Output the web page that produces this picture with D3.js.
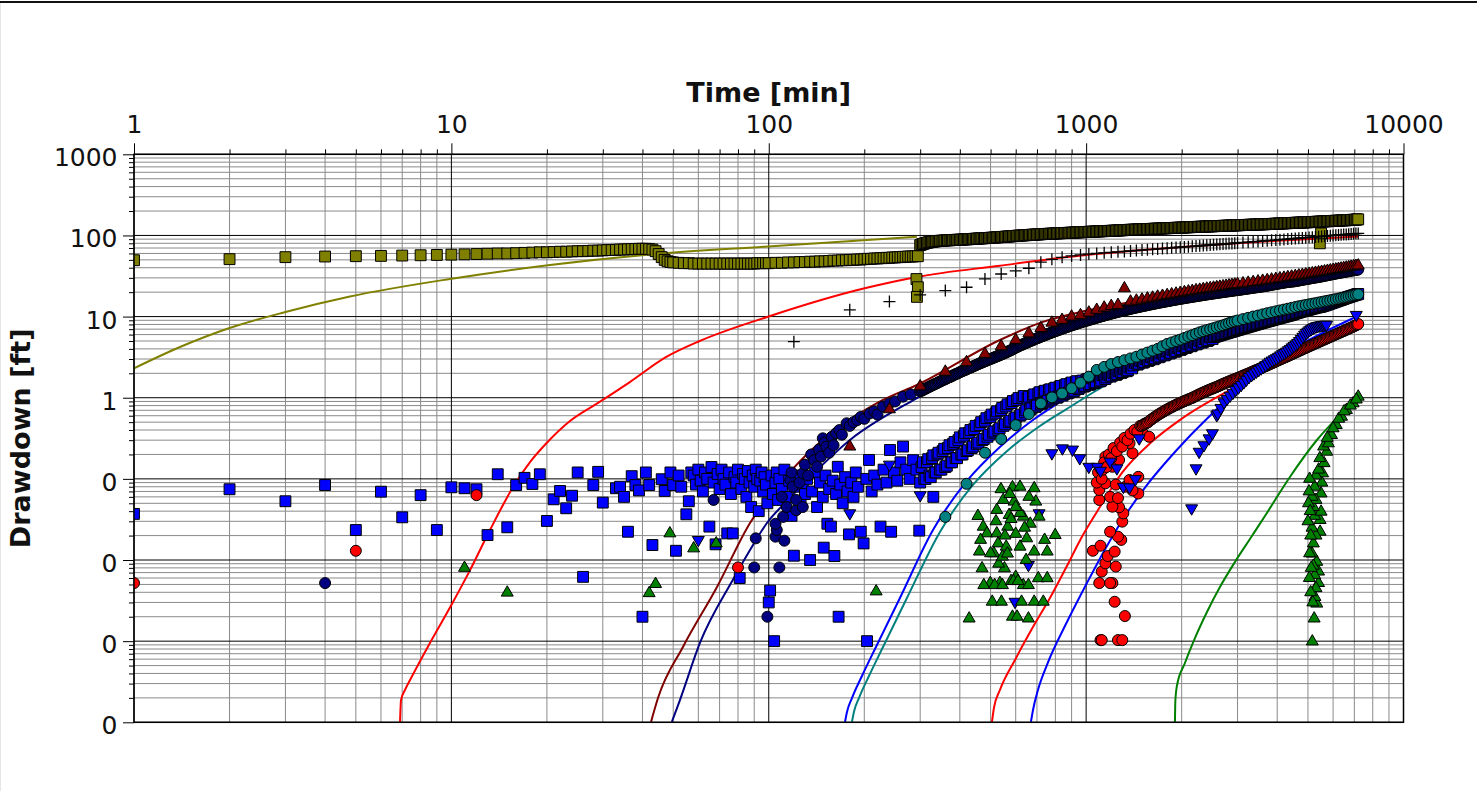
<!DOCTYPE html>
<html>
<head>
<meta charset="utf-8">
<script src="https://cdn.jsdelivr.net/npm/d3@7"></script>
<style>
  html, body { margin: 0; padding: 0; background: #fff; }
  svg { display: block; }
</style>
</head>
<body>
<svg id="chart" width="1477" height="791"></svg>
<script>
// ---------- axes ----------
const xTickValues = [1, 10, 100, 1000, 10000];
const xTickLabels = ["1", "10", "100", "1000", "10000"];
const yTickValues = [1000, 100, 10, 1, 0.1, 0.01, 0.001, 0.0001];
const yTickLabels = ["1000", "100", "10", "1", "0", "0", "0", "0"];
const xTitle = "Time [min]";
const yTitle = "Drawdown [ft]";

// ---------- hourly readings (minutes) ----------
const hourlyTimes = [60,120,180,240,300,360,420,480,540,600,660,720,780,840,900,960,1020,1080,1140,1200,
  1260,1320,1380,1440,1500,1560,1620,1680,1740,1800,1860,1920,1980,2040,2100,2160,2220,2280,2340,2400,
  2460,2520,2580,2640,2700,2760,2820,2880,2940,3000,3120,3240,3360,3480,3600,3720,3840,3960,4080,4200,
  4320,4440,4560,4680,4800,4920,5040,5160,5280,5400,5520,5640,5760,5880,6000,6120,6240,6360,6480,6600,
  6720,6840,6960,7080,7200];

const crossValues = [null,4.9,12.1,15.3,18.5,20.9,23,29.1,33.5,36.5,39.4,46.8,50.8,53.8,55.9,57.5,59,60,61,62,
  62.8,63.6,64.4,65.2,66,66.8,67.5,68.2,68.9,69.6,70.3,71,71.6,72.2,72.8,73.4,74,74.6,75.2,75.8,
  76.3,76.8,77.3,77.8,78.3,78.8,79.3,79.8,80.3,80.8,81.8,82.7,83.6,84.5,85.4,86.2,87,87.8,88.6,89.4,
  90.2,91,91.7,92.4,93.1,93.8,94.5,95.2,95.9,96.6,97.3,98,98.7,99.4,100,100.6,101.2,101.8,102.4,103,
  103.6,104.2,104.8,105.4,106];

const maroonTriangleValues = [null,null,0.25,0.72,1.38,2.09,2.74,3.46,4.3,5.15,6.2,7.2,8.4,9.1,10,10.4,11.2,12.1,12.9,13.5,
  13.9,22.3,15.3,15.7,16.2,16.7,17.1,17.6,18,18.4,18.8,19.2,19.6,20,20.4,20.7,21.1,21.4,21.8,22.1,
  22.4,22.7,23,23.3,23.6,23.9,24.2,24.5,24.8,25.1,25.6,26.1,26.6,27.1,27.6,28.1,28.6,29.1,29.6,30.1,
  30.6,31.1,31.6,32.1,32.6,33.1,33.6,34.1,34.6,35.1,35.6,36.1,36.6,37.1,37.6,38.1,38.6,39.1,39.6,40.1,
  40.6,41.1,41.6,42.1,42.6];

const tealCircleValues = [null,null,null,null,null,0.034,0.087,0.21,0.31,0.46,0.63,0.85,1.01,1.13,1.31,1.53,1.82,2.2,2.4,2.6,
  2.75,2.9,3.05,3.2,3.4,3.6,3.8,4.0,4.3,4.6,4.8,5.0,5.2,5.45,5.7,5.9,6.15,6.4,6.6,6.8,
  7.0,7.2,7.4,7.6,7.8,8.05,8.3,8.55,8.75,8.95,9.3,9.65,10.0,10.3,10.65,11.0,11.3,11.6,11.9,12.2,
  12.5,12.8,13.1,13.4,13.65,13.9,14.15,14.4,14.65,14.9,15.15,15.4,15.65,15.9,16.15,16.4,16.65,16.9,17.15,17.4,
  17.7,18.0,18.3,18.55,18.8];

// ---------- logger readings (minutes) from 300 min on, two interleaved passes ----------
const loggerTimes = [
  300,306,312,318,324,330,336,343,350,357,
  364,371,378,385,392,400,408,416,424,432,
  440,449,458,467,476,485,494,504,514,524,
  534,544,555,566,577,588,600,612,624,636,
  648,660,673,686,700,714,728,742,756,771,
  786,801,817,833,850,867,884,901,919,937,
  955,974,993,1012,1032,1052,1073,1094,1116,1138,
  1160,1183,1206,1230,1254,1279,1304,1330,1356,1383,
  1410,1438,1466,1495,1524,1554,1585,1616,1648,1680,
  1713,1747,1781,1816,1852,1888,1925,1963,2002,2041,
  2081,2122,2164,2207,2250,2294,2339,2385,2432,2480,
  2529,2579,2630,2682,2735,2789,2844,2900,2957,3015,
  3074,3134,3196,3259,3323,3388,3455,3523,3592,3663,
  3735,3808,3883,3960,4038,4117,4198,4281,4365,4451,
  4538,4627,4718,4811,4906,5002,5100,5200,5303,5407,
  5513,5622,5732,5845,5960,6077,6197,6319,6443,6570,
  6699,6831,6965,7102,7200];

const loggerTimesB = [
  303,309,315,321,327,333,340,346,353,360,
  367,374,381,388,396,404,412,420,428,436,
  444,453,462,471,480,489,499,509,519,529,
  539,549,560,571,582,594,606,618,630,642,
  654,666,680,693,707,721,735,749,763,778,
  793,809,825,841,858,875,892,910,928,946,
  964,983,1002,1022,1042,1062,1083,1105,1127,1149,
  1171,1194,1218,1242,1266,1291,1317,1343,1369,1396,
  1424,1452,1480,1509,1539,1569,1600,1632,1664,1696,
  1730,1764,1798,1834,1870,1906,1944,1982,2021,2061,
  2101,2143,2185,2228,2272,2316,2362,2408,2456,2504,
  2554,2604,2656,2708,2762,2816,2872,2928,2986,3044,
  3104,3165,3227,3291,3355,3421,3489,3557,3627,3699,
  3771,3845,3921,3999,4077,4157,4239,4323,4408,4494,
  4582,4672,4764,4858,4954,5051,5150,5251,5355,5460,
  5567,5677,5788,5902,6018,6137,6258,6381,6506,6634,
  6765,6898,7033,7150];

const oliveLogger = [
  76,78.5,80.5,82,83.2,84,84.7,85.5,86,86.5,
  87,87.3,87.6,88,88.3,88.6,89,89.4,89.8,90.2,
  90.6,91.1,91.6,92,92.4,92.8,93.2,93.7,94.2,94.7,
  95.2,95.7,96.3,96.9,97.5,98,98.7,99.3,99.8,100.3,
  100.8,101.3,101.8,102.3,102.8,103.3,103.8,104.2,104.6,105,
  105.4,105.8,106.2,106.6,107,107.4,107.8,108.2,108.6,109,
  109.4,109.8,110.2,110.6,111,111.4,111.8,112.2,112.6,113,
  113.4,113.8,114.2,114.6,115,115.5,116,116.5,117,117.4,
  117.8,118.2,118.6,119,119.4,119.8,120.2,120.6,121,121.4,
  121.8,122.2,122.6,123,123.4,123.8,124.2,124.6,125,125.5,
  126,126.4,126.8,127.2,127.6,128,128.4,128.8,129.2,129.6,
  130,130.4,130.8,131.2,131.6,132,132.4,132.8,133.2,133.6,
  134,134.4,134.8,135.2,135.6,136,136.4,136.8,137.2,137.6,
  138,138.5,139,139.5,140,140.5,141,141.5,142,142.5,
  143,143.5,144,144.5,145,145.5,146,146.6,147.2,147.8,
  148.4,149,149.6,150.2,150.8,151.4,152,152.6,153.2,153.8,
  154.5,155.2,156,157,158];

const oliveLoggerB = [
  77.5,79.5,81.3,82.6,83.6,84.4,85.1,85.8,86.3,86.8,
  87.2,87.5,87.8,88.2,88.5,88.8,89.2,89.6,90,90.4,
  90.9,91.4,91.8,92.2,92.6,93,93.5,94,94.5,95,
  95.5,96,96.6,97.2,97.8,98.4,99,99.6,100.1,100.6,
  101.1,101.6,102.1,102.6,103.1,103.6,104,104.4,104.8,105.2,
  105.6,106,106.4,106.8,107.2,107.6,108,108.4,108.8,109.2,
  109.6,110,110.4,110.8,111.2,111.6,112,112.4,112.8,113.2,
  113.6,114,114.4,114.8,115.3,115.8,116.3,116.8,117.2,117.6,
  118,118.4,118.8,119.2,119.6,120,120.4,120.8,121.2,121.6,
  122,122.4,122.8,123.2,123.6,124,124.4,124.8,125.3,125.8,
  126.2,126.6,127,127.4,127.8,128.2,128.6,129,129.4,129.8,
  130.2,130.6,131,131.4,131.8,132.2,132.6,133,133.4,133.8,
  134.2,134.6,135,135.4,135.8,136.2,136.6,137,137.4,137.8,
  138.3,138.8,139.3,139.8,140.3,140.8,141.3,141.8,142.3,142.8,
  143.3,143.8,144.3,144.8,145.3,145.8,146.3,146.9,147.5,148.1,
  148.7,149.3,149.9,150.5,151.1,151.7,152.3,152.9,153.5,154.2,
  154.9,155.6,156.5,157.5];

const navyLogger = [
  1.2,1.24,1.29,1.34,1.39,1.44,1.49,1.55,1.61,1.67,
  1.73,1.79,1.85,1.92,1.98,2.06,2.13,2.2,2.28,2.35,
  2.43,2.51,2.6,2.69,2.77,2.86,2.95,3.04,3.14,3.24,
  3.34,3.44,3.56,3.69,3.82,3.96,4.15,4.3,4.45,4.6,
  4.75,4.9,5.06,5.22,5.4,5.57,5.74,5.91,6.08,6.26,
  6.44,6.62,6.81,7.0,7.2,7.4,7.6,7.8,8.0,8.2,
  8.4,8.6,8.8,9.0,9.2,9.4,9.62,9.84,10.06,10.28,
  10.5,10.72,10.94,11.16,11.38,11.6,11.82,12.04,12.26,12.48,
  12.7,12.92,13.14,13.36,13.58,13.8,14.02,14.24,14.46,14.68,
  14.9,15.12,15.34,15.56,15.78,16.0,16.22,16.44,16.66,16.88,
  17.1,17.32,17.54,17.76,17.98,18.2,18.42,18.64,18.86,19.08,
  19.3,19.52,19.74,19.96,20.18,20.4,20.62,20.84,21.06,21.28,
  21.5,21.75,22.0,22.25,22.5,22.75,23.0,23.25,23.5,23.75,
  24.1,24.45,24.8,25.15,25.5,25.85,26.2,26.5,26.8,27.0,
  27.2,27.6,28.0,28.4,28.8,29.2,29.6,30.0,30.4,30.8,
  31.2,31.7,32.2,32.7,33.2,33.7,34.2,34.7,35.2,35.7,
  36.2,36.7,37.2,37.7,38];

const navyLoggerB = [
  1.22,1.27,1.32,1.37,1.42,1.47,1.52,1.58,1.64,1.7,
  1.76,1.82,1.89,1.95,2.02,2.1,2.17,2.24,2.32,2.39,
  2.47,2.56,2.65,2.73,2.82,2.91,3.0,3.09,3.19,3.29,
  3.39,3.5,3.63,3.76,3.89,4.05,4.22,4.38,4.52,4.68,
  4.82,4.98,5.14,5.31,5.48,5.66,5.82,6.0,6.17,6.35,
  6.53,6.72,6.9,7.1,7.3,7.5,7.7,7.9,8.1,8.3,
  8.5,8.7,8.9,9.1,9.3,9.51,9.73,9.95,10.17,10.39,
  10.61,10.83,11.05,11.27,11.49,11.71,11.93,12.15,12.37,12.59,
  12.81,13.03,13.25,13.47,13.69,13.91,14.13,14.35,14.57,14.79,
  15.01,15.23,15.45,15.67,15.89,16.11,16.33,16.55,16.77,16.99,
  17.21,17.43,17.65,17.87,18.09,18.31,18.53,18.75,18.97,19.19,
  19.41,19.63,19.85,20.07,20.29,20.51,20.73,20.95,21.17,21.39,
  21.62,21.87,22.12,22.37,22.62,22.87,23.12,23.37,23.62,23.92,
  24.27,24.62,24.97,25.32,25.67,26.02,26.35,26.65,26.9,27.1,
  27.4,27.8,28.2,28.6,29.0,29.4,29.8,30.2,30.6,31.0,
  31.45,31.95,32.45,32.95,33.45,33.95,34.45,34.95,35.45,35.95,
  36.45,36.95,37.45,37.85];

const blueSquareLogger = [
  0.09,0.16,0.1,0.175,0.105,0.195,0.12,0.21,0.13,0.235,
  0.145,0.26,0.16,0.285,0.18,0.325,0.2,0.365,0.225,0.4,
  0.25,0.45,0.28,0.5,0.31,0.56,0.35,0.62,0.385,0.68,
  0.42,0.75,0.47,0.83,0.52,0.91,0.57,0.99,0.62,1.05,
  0.7,1.03,0.74,1.1,0.8,1.17,0.86,1.22,0.92,1.27,
  0.98,1.33,1.03,1.4,1.1,1.47,1.16,1.54,1.22,1.6,
  1.33,1.63,1.4,1.7,1.47,1.78,1.55,1.86,1.63,1.95,
  1.78,1.97,1.87,2.07,1.96,2.18,2.07,2.3,2.18,2.42,
  2.5,2.78,2.63,2.92,2.76,3.07,2.91,3.23,3.06,3.4,
  3.23,3.59,3.4,3.78,3.58,3.98,3.77,4.2,3.98,4.43,
  4.2,4.66,4.42,4.9,4.65,5.16,4.88,5.4,5.12,5.68,
  5.6,5.74,5.88,6.02,6.16,6.3,6.45,6.6,6.75,6.9,
  7.06,7.22,7.38,7.55,7.72,7.89,8.06,8.24,8.42,8.6,
  8.78,8.97,9.16,9.35,9.54,9.74,9.94,10.14,10.35,10.56,
  10.9,11.15,11.4,11.65,11.9,12.15,12.4,12.65,12.9,13.1,
  13.3,13.65,14.0,14.4,14.8,15.2,15.6,16.0,16.45,16.9,
  17.35,17.8,18.25,18.7,19.0];

const blueSquareLoggerB = [
  0.14,0.1,0.16,0.11,0.18,0.12,0.2,0.13,0.22,0.14,
  0.24,0.16,0.27,0.18,0.3,0.2,0.34,0.22,0.37,0.24,
  0.41,0.27,0.46,0.3,0.52,0.33,0.58,0.37,0.64,0.4,
  0.7,0.45,0.78,0.5,0.86,0.55,0.94,0.6,1.0,0.66,
  0.98,0.72,1.06,0.77,1.13,0.83,1.19,0.89,1.25,0.95,
  1.3,1.0,1.37,1.06,1.43,1.13,1.5,1.19,1.57,1.28,
  1.6,1.37,1.67,1.44,1.74,1.51,1.82,1.59,1.9,1.7,
  1.92,1.82,2.02,1.91,2.12,2.02,2.24,2.12,2.36,2.3,
  2.7,2.56,2.85,2.7,3.0,2.84,3.15,2.98,3.32,3.15,
  3.5,3.32,3.7,3.5,3.9,3.68,4.1,3.88,4.32,4.1,
  4.55,4.31,4.78,4.54,5.03,4.77,5.28,5.0,5.54,5.3,
  5.67,5.81,5.95,6.09,6.23,6.37,6.52,6.67,6.82,6.98,
  7.14,7.3,7.46,7.63,7.8,7.97,8.15,8.33,8.51,8.69,
  8.87,9.06,9.25,9.44,9.64,9.84,10.04,10.25,10.46,10.7,
  11.02,11.27,11.52,11.77,12.02,12.27,12.52,12.77,13.0,13.2,
  13.48,13.82,14.2,14.6,15.0,15.4,15.8,16.22,16.67,17.12,
  17.57,18.02,18.47,18.85];

const redCircleLogger = [
  null,null,null,null,null,null,null,null,null,null,
  null,null,null,null,null,null,null,null,null,null,
  null,null,null,null,null,null,null,null,null,null,
  null,null,null,null,null,null,null,null,null,null,
  null,null,null,null,null,null,null,null,null,null,
  null,null,null,null,null,null,null,null,null,null,
  null,null,null,null,null,null,null,null,null,null,
  null,null,null,null,null,null,null,null,null,null,
  null,null,null,0.45,0.47,0.49,0.52,0.55,0.58,0.61,
  0.64,0.67,0.7,0.73,0.76,0.79,0.82,0.85,0.88,0.91,
  0.94,0.97,1.0,1.04,1.08,1.12,1.16,1.2,1.24,1.28,
  1.32,1.36,1.41,1.46,1.51,1.56,1.61,1.66,1.71,1.76,
  1.82,1.88,1.94,2.0,2.07,2.14,2.21,2.28,2.36,2.44,
  2.52,2.61,2.7,2.8,2.9,3.0,3.1,3.21,3.32,3.44,
  3.56,3.69,3.82,3.96,4.1,4.24,4.39,4.54,4.7,4.86,
  5.03,5.2,5.38,5.57,5.76,5.96,6.16,6.37,6.59,6.82,
  7.06,7.31,7.57,7.85,8.1];

const redCircleLoggerB = [
  null,null,null,null,null,null,null,null,null,null,
  null,null,null,null,null,null,null,null,null,null,
  null,null,null,null,null,null,null,null,null,null,
  null,null,null,null,null,null,null,null,null,null,
  null,null,null,null,null,null,null,null,null,null,
  null,null,null,null,null,null,null,null,null,null,
  null,null,null,null,null,null,null,null,null,null,
  null,null,null,null,null,null,null,null,null,null,
  null,null,null,0.46,0.48,0.5,0.535,0.565,0.595,0.625,
  0.655,0.685,0.715,0.745,0.775,0.805,0.835,0.865,0.895,0.925,
  0.955,0.985,1.02,1.06,1.1,1.14,1.18,1.22,1.26,1.3,
  1.34,1.385,1.435,1.485,1.535,1.585,1.635,1.685,1.735,1.79,
  1.85,1.91,1.97,2.035,2.105,2.175,2.245,2.32,2.4,2.48,
  2.565,2.655,2.75,2.85,2.95,3.05,3.155,3.265,3.38,3.5,
  3.625,3.755,3.89,4.03,4.17,4.315,4.465,4.62,4.78,4.945,
  5.115,5.29,5.475,5.665,5.86,6.06,6.265,6.48,6.705,6.94,
  7.185,7.44,7.71,7.97];

// ---------- individual readings ----------
const oliveSquares = [[1,49.5],[2,51],[3,54],[4,55],[5,55.5],[6,56],[7,56.5],[8,57],[9,57.5],[10,58],
  [11,58.5],[12,59],[13,59.5],[14,60],[15,60],[16,60.5],[17,61],[18,61.5],[19,62],[20,62],
  [21,62.5],[22,63],[23,63],[24,63.5],[25,64],[26,64],[27,64.5],[28,65],[29,65],[30,65.5],
  [31,66],[32,66],[33,66.5],[34,67],[35,67],[36,67.5],[37,68],[38,68],[39,68.5],[40,68.5],
  [41,68.5],[42,68],[43,67],[44,64],[45,59],[46,54],[47,50],[48,48],[49,47],[50,46.5],
  [52,46],[54,45.5],[56,45.5],[58,45],[60,45],[62,45],[64,45],[66,45],[68,45],[70,45],
  [72,45],[74,45],[76,45],[78,45],[80,45],[82,45],[84,45],[86,45],[88,45],[90,45],
  [92,45.5],[94,45.5],[96,45.5],[98,45.5],[100,45.5],[105,46],[110,46],[115,46.5],[120,46.5],[125,47],
  [130,47],[135,47.5],[140,47.5],[145,48],[150,48],[155,48.5],[160,49],[165,49],[170,49.5],[175,49.5],
  [180,50],[185,50],[190,50.5],[195,50.5],[200,51],[205,51.5],[210,51.5],[215,52],[220,52],[225,52.5],
  [230,52.5],[235,53],[240,53],[245,53.5],[250,53.5],[255,54],[260,54],[265,54.5],[270,54.5],[275,55],
  [280,55],[285,55],[290,55.5],[295,55.5],
  [292,29],[295,23],[293,17.5],[5450,80],[5500,106]];

const blueSquares = [[1,0.037],[2,0.0745],[3,0.053],[4,0.084],[5,0.0234],[6,0.0695],[7,0.0336],[8,0.063],[9,0.0234],[10,0.0787],
  [11,0.0766],[12,0.0745],[13,0.0203],[14,0.114],[15,0.0253],[16,0.084],[17,0.103],[18,0.0865],[19,0.114],[20,0.0303],
  [21,0.056],[22,0.071],[23,0.0434],[24,0.062],[25,0.12],[26,0.0062],[28,0.084],[29,0.122],[30,0.051],[33,0.0766],
  [34,0.08],[35,0.06],[36,0.0223],[37,0.108],[38,0.084],[39,0.072],[40,0.002],[41,0.12],[42,0.084],[43,0.0153],
  [46,0.099],[47,0.071],[49,0.12],[50,0.084],[51,0.013],[52,0.11],[53,0.08],[55,0.0366],[56,0.053],[57,0.12],
  [58,0.11],[59,0.085],[60,0.13],[61,0.095],[62,0.07],[63,0.12],[64,0.1],[65,0.0258],[66,0.14],[67,0.09],
  [68,0.0156],[69,0.115],[70,0.075],[71,0.13],[72,0.1],[73,0.085],[74,0.0213],[75,0.12],[76,0.065],[77,0.0213],
  [78,0.105],[79,0.09],[80,0.13],[81,0.006],[82,0.075],[83,0.115],[84,0.1],[85,0.06],[86,0.125],[87,0.09],
  [88,0.045],[89,0.11],[90,0.08],[91,0.13],[92,0.1],[93,0.04],[94,0.095],[95,0.12],[96,0.07],[97,0.105],
  [98,0.085],[99,0.05],[100,0.003],[101,0.0042],[102,0.11],[103,0.065],[104,0.001],[105,0.09],[106,0.12],[107,0.055],
  [108,0.1],[110,0.075],[112,0.13],[114,0.06],[116,0.095],[118,0.035],[120,0.0113],[122,0.08],[124,0.11],[126,0.05],
  [128,0.085],[130,0.065],[132,0.1],[135,0.01],[137,0.07],[140,0.12],[142,0.045],[145,0.09],[148,0.06],[149,0.0142],
  [151,0.11],[153,0.028],[155,0.075],[157,0.0258],[159,0.095],[161,0.0112],[163,0.065],[165,0.141],[166,0.002],[168,0.085],
  [171,0.05],[174,0.105],[177,0.07],[179,0.0207],[182,0.09],[185,0.06],[188,0.12],[191,0.08],[195,0.0223],[199,0.016],
  [203,0.1],[204,0.001],[207,0.171],[211,0.07],[215,0.11],[220,0.085],[225,0.0258],[230,0.13],[235,0.09],[241,0.227],
  [243,0.0223],[248,0.12],[254,0.095],[260,0.16],[265,0.25],[271,0.13],[278,0.1],[285,0.17],[292,0.13],[298,0.023],[330,0.06]];

const navyCircles = [[4,0.0052],[67,0.055],[91,0.0185],[90,0.0081],[99,0.002],[105,0.0194],[108,0.0081],[112,0.0173],[106,0.0234],[105,0.028],
  [111,0.034],[110,0.06],[114,0.045],[117,0.097],[118,0.12],[119,0.08],[122,0.041],[122,0.055],[125,0.09],[128,0.045],
  [128,0.117],[130,0.15],[133,0.11],[136,0.2],[139,0.17],[142,0.141],[144,0.23],[146,0.188],[148,0.316],[150,0.28],
  [152,0.249],[155,0.21],[158,0.33],[160,0.26],[163,0.365],[167,0.4],[170,0.35],[176,0.484],[180,0.45],[185,0.5],
  [190,0.53],[195,0.58],[200,0.55],[208,0.64],[215,0.68],[220,0.62],[229,0.78],[240,0.85],[250,0.9],[265,1.03],[280,1.1]];

const redCircles = [[1,0.0052],[5,0.013],[12,0.063],[80,0.0081],
  [1110,0.00103],[1120,0.00103],[1260,0.00103],[1300,0.00103],[1325,0.00204],[1230,0.00306],[1210,0.0052],[1190,0.0052],[1100,0.0052],[1120,0.0072],
  [1240,0.0083],[1150,0.0091],[1170,0.0112],[1230,0.0127],[1050,0.013],[1110,0.015],[1290,0.0177],[1260,0.0194],[1190,0.0223],[1300,0.0297],
  [1310,0.0376],[1270,0.0447],[1210,0.0454],[1100,0.055],[1190,0.06],[1260,0.058],[1100,0.073],[1150,0.088],[1240,0.085],[1330,0.08],
  [1460,0.066],[1400,0.072],[1370,0.097],[1460,0.106],[1210,0.141],[1270,0.171],[1150,0.188],[1400,0.207],[1370,0.274],[1510,0.365],
  [1080,0.09],[1090,0.12],[1120,0.1],[1130,0.13],[1140,0.16],[1160,0.14],[1180,0.2],[1200,0.18],[1220,0.24],[1250,0.22],
  [1280,0.28],[1300,0.25],[1320,0.32],[1350,0.3],[1380,0.36],[1420,0.4],[1450,0.38],[1480,0.45],[1530,0.48],[1580,0.33]];

const blueTriangles = [[60,0.0177],[180,0.0377],[240,0.15],[300,0.063],[597,0.00306],[658,0.0087],[711,0.0377],[780,0.207],[842,0.238],[906,0.23],
  [955,0.18],[1020,0.141],[1085,0.141],[1110,0.126],[1190,0.163],[1250,0.135],[1310,0.08],[1370,0.0787],[1430,0.0995],[1470,0.316],
  [2150,0.0434],[2220,0.135],[2270,0.216],[2350,0.26],[2440,0.316],[2500,0.365],[2580,0.61],[2600,0.64],[2660,0.75],[2720,0.88],
  [2780,0.97],[2840,1.06],[2900,1.15],[2960,1.25],[3020,1.34],[3080,1.44],[3140,1.55],[3200,1.67],[3260,1.8],[3320,1.9],
  [3380,2.0],[3440,2.1],[3500,2.2],[3560,2.3],[3620,2.4],[3680,2.52],[3740,2.65],[3800,2.78],[3860,2.88],[3920,2.98],
  [3980,3.08],[4040,3.2],[4100,3.33],[4160,3.45],[4220,3.57],[4280,3.7],[4340,3.85],[4400,4.0],[4460,4.18],[4520,4.35],
  [4580,4.55],[4640,4.75],[4700,5.0],[4760,5.3],[4820,5.65],[4880,6.0],[4940,6.3],[5000,6.55],[5060,6.8],[5120,7.0],
  [5180,7.2],[5240,7.4],[5300,7.55],[5360,7.65],[5420,7.72],[5480,7.8],[5540,7.85],[5600,7.9],[5660,7.93],[5720,7.96],[7100,10.5]];

const greenTriangles = [[11,0.008],[15,0.00396],[42,0.0039],[44,0.00506],[48.8,0.0213],[58,0.0139],[68.3,0.016],[218,0.0041],
  [428,0.0019],[456,0.0349],[474,0.0257],[461,0.0127],[470,0.0079],[499,0.0052],[506,0.00306],[487,0.0213],[523,0.0414],[539,0.0745],
  [548,0.055],[523,0.0213],[528,0.016],[512,0.0121],[535,0.0052],[541,0.00306],[553,0.0079],[560,0.0146],[566,0.0257],[572,0.0359],
  [586,0.0787],[593,0.0524],[586,0.002],[606,0.002],[600,0.0062],[619,0.08],[619,0.0146],[626,0.00306],[634,0.0049],[634,0.0342],
  [650,0.0185],[658,0.0019],[647,0.01],[658,0.0049],[667,0.028],[686,0.0766],[686,0.0127],[686,0.00306],[694,0.0524],[707,0.00596],
  [711,0.0342],[733,0.00306],[740,0.0177],[754,0.00596],[754,0.0127],[799,0.0203],[465,0.0177],[476,0.0049],[515,0.0049],[545,0.0049],
  [580,0.0055],[590,0.0055],[610,0.0055],[500,0.0121],[530,0.009],[545,0.011],[565,0.012],[600,0.021],[520,0.03],[555,0.02],
  [580,0.032],[620,0.038],[640,0.025],[600,0.045],[575,0.065],[660,0.06],
  [5160,0.00099],[5230,0.0019],[5330,0.0029],[5260,0.0035],[5400,0.0052],[5300,0.0045],[5400,0.0072],[5250,0.0065],[5330,0.0095],[5200,0.0085],
  [5200,0.016],[5150,0.012],[5060,0.0121],[5460,0.0223],[5300,0.02],[5150,0.025],[5460,0.0311],[5250,0.035],[5500,0.0394],[5200,0.045],
  [5500,0.066],[5300,0.055],[5150,0.06],[5530,0.0898],[5250,0.08],[5560,0.117],[5300,0.11],[5400,0.13],[5620,0.156],[5450,0.18],
  [5730,0.216],[5600,0.25],[5800,0.274],[5930,0.347],[5750,0.32],[6140,0.461],[6000,0.42],[6380,0.583],[6250,0.55],[6610,0.706],
  [6500,0.68],[6940,0.853],[6800,0.8],[7200,1.03],[7100,0.95],[5000,0.03],[5020,0.05],[5040,0.07],[5060,0.1],[5080,0.04],
  [5100,0.02],[5050,0.006],[5100,0.004],[5120,0.008],[5180,0.003]];

// ---------- fitted drawdown curves ----------
const oliveCurve = [[1,2.306],[1.396,4.22],[2.0,7.24],[3.0,11.39],[4.79,17.69],[9.9,29.07],[20.45,43.24],[42.24,58.26],[99.4,73.1],[293,96.5]];
const redCurveNear = [[6.89,1.01e-4],[6.94,1.88e-4],[7.14,2.5e-4],[7.41,3.32e-4],[8.56,9.5e-4],[10,2.79e-3],[11.45,7.5e-3],[13.23,0.0234],[15.64,0.0794],[17.69,0.161],[19.96,0.277],[23.64,0.517],[29.4,0.894],[36.5,1.56],[47.7,3.2],[60.6,5.0],[99.4,9.97],[202,22.5],[293,30.8],[535,42.4],[999,57.4],[2000,72],[4000,86],[7200,97]];
const maroonCurve = [[42.56,1.01e-4],[44.77,1.99e-4],[53.65,8.47e-4],[68.7,4.65e-3],[87.3,0.0286],[110.8,0.0969],[141.8,0.2616],[180.3,0.532],[229,0.938],[293,1.436],[535,5.15],[731,8.6],[1000,11.8],[1500,16],[2500,22],[4000,29],[7200,42]];
const navyCurve = [[49.5,1.01e-4],[52.5,1.88e-4],[60.7,9.5e-4],[77.1,5.7e-3],[87.3,0.0133],[98.7,0.0286],[115,0.055],[180.3,0.302],[293,0.99],[535,3.37],[999,8.34],[2000,17],[4000,27],[7200,37]];
const blueCurveNear = [[173.9,1.01e-4],[176.4,1.34e-4],[182.9,1.99e-4],[196.6,3.72e-4],[219.2,8.97e-4],[259,3.4e-3],[329.2,0.0234],[421.1,0.0942],[535,0.247],[679.9,0.532],[845.2,0.938],[1005.8,1.477],[2000,4.8],[3000,8],[5000,13.5],[7200,18.5]];
const tealCurve = [[182.9,1.01e-4],[185.5,1.34e-4],[192.4,1.99e-4],[206.9,3.72e-4],[230.7,8.97e-4],[272.5,3.4e-3],[346.3,0.0222],[439.9,0.0841],[559,0.2145],[715.3,0.448],[889.2,0.769],[1058,1.177],[2000,4.5],[3000,7.8],[5000,13.3],[7200,18.6]];
const redCurveFar = [[505,1.01e-4],[512.3,1.5e-4],[535,2.5e-4],[596.8,5.86e-4],[679.9,1.49e-3],[769.1,3.4e-3],[870,8.44e-3],[977,0.0203],[1105,0.045],[1300,0.12],[1600,0.28],[2000,0.55],[3000,1.4],[5000,4],[7200,8]];
const blueCurveFar = [[670,1.01e-4],[680,1.41e-4],[705,2.5e-4],[752.3,5.08e-4],[870,1.72e-3],[1006,5.21e-3],[1163,0.0149],[1344,0.038],[1554,0.084],[1797,0.166],[2078,0.31],[2583,0.727],[3282,1.8],[4716,4.47],[7183,10.17]];
const greenCurve = [[1905,1.01e-4],[1911,1.88e-4],[1932,2.8e-4],[2048,5.38e-4],[2202,1.09e-3],[2403,2.29e-3],[2640,4.65e-3],[2943,9.45e-3],[3282,0.01816],[3712,0.038],[4386,0.1055],[5336,0.3014],[6302,0.613],[7183,1.021]];

// ---------- layout ----------
const W = 1477, H = 791;
const plot = { left: 134, right: 1403.5, top: 154.3, bottom: 722.3 };
const FONT = "'DejaVu Sans', Verdana, sans-serif";

const svg = d3.select("#chart");
const x = d3.scaleLog().domain([1, 10000]).range([plot.left, plot.right]);
const y = d3.scaleLog().domain([1e-4, 1000]).range([plot.bottom, plot.top]);

svg.append("rect").attr("width", W).attr("height", H).attr("fill", "#fff");
svg.append("line").attr("x1", 0).attr("x2", W).attr("y1", 2).attr("y2", 2)
  .attr("stroke", "#111").attr("stroke-width", 2.2);
svg.append("line").attr("x1", 0.5).attr("x2", 0.5).attr("y1", 3).attr("y2", H)
  .attr("stroke", "#e6e6e6");

const xMinor = x.ticks().filter(v => !xTickValues.includes(v));
const yMinor = y.ticks().filter(v => !yTickValues.some(m => Math.abs(m - v) / m < 1e-9));

// grid
const grid = svg.append("g");
grid.selectAll(null).data(xMinor).join("line")
  .attr("x1", d => x(d)).attr("x2", d => x(d)).attr("y1", plot.top).attr("y2", plot.bottom)
  .attr("stroke", "#8a8a8a").attr("stroke-width", 1);
grid.selectAll(null).data(yMinor).join("line")
  .attr("y1", d => y(d)).attr("y2", d => y(d)).attr("x1", plot.left).attr("x2", plot.right)
  .attr("stroke", "#8a8a8a").attr("stroke-width", 1);
grid.selectAll(null).data(xTickValues).join("line")
  .attr("x1", d => x(d)).attr("x2", d => x(d)).attr("y1", plot.top).attr("y2", plot.bottom)
  .attr("stroke", "#000").attr("stroke-width", 1);
grid.selectAll(null).data(yTickValues).join("line")
  .attr("y1", d => y(d)).attr("y2", d => y(d)).attr("x1", plot.left).attr("x2", plot.right)
  .attr("stroke", "#000").attr("stroke-width", 1);

// axes
function styleAxis(g) {
  g.select(".domain").remove();
  g.selectAll(".tick line").attr("stroke", "#000").attr("stroke-width", 1);
  g.selectAll(".tick text").attr("fill", "#111").style("font-family", FONT).style("font-size", "25px");
}
svg.append("g").attr("transform", `translate(0,${plot.top})`)
  .call(d3.axisTop(x).tickValues(xMinor).tickSize(5).tickFormat(""))
  .call(styleAxis);
svg.append("g").attr("transform", `translate(0,${plot.top})`)
  .call(d3.axisTop(x).tickValues(xTickValues).tickSize(11).tickPadding(10)
    .tickFormat((d, i) => xTickLabels[i]))
  .call(styleAxis);
svg.append("g").attr("transform", `translate(${plot.left},0)`)
  .call(d3.axisLeft(y).tickValues(yMinor).tickSize(5).tickFormat(""))
  .call(styleAxis);
svg.append("g").attr("transform", `translate(${plot.left},0)`)
  .call(d3.axisLeft(y).tickValues(yTickValues).tickSize(11).tickPadding(5.5)
    .tickFormat((d, i) => yTickLabels[i]))
  .call(styleAxis)
  .call(g => g.selectAll(".tick text").attr("dy", "0.46em"));

// titles
svg.append("text").attr("x", (plot.left + plot.right) / 2).attr("y", 102)
  .attr("text-anchor", "middle").style("font-family", FONT).style("font-size", "27px")
  .style("font-weight", "bold").attr("fill", "#111").text(xTitle);
svg.append("text").attr("transform", `translate(30,${(plot.top + plot.bottom) / 2}) rotate(-90)`)
  .attr("text-anchor", "middle").style("font-family", FONT).style("font-size", "27px")
  .style("font-weight", "bold").attr("fill", "#111").text(yTitle);

// plotting area
svg.append("clipPath").attr("id", "plotClip").append("rect")
  .attr("x", plot.left).attr("y", plot.top)
  .attr("width", plot.right - plot.left).attr("height", plot.bottom - plot.top);
const area = svg.append("g").attr("clip-path", "url(#plotClip)");

const line = d3.line().x(d => x(d[0])).y(d => y(d[1])).curve(d3.curveMonotoneX);
const curves = [
  [oliveCurve, "#808000"], [redCurveNear, "#ff0000"], [maroonCurve, "#800000"], [navyCurve, "#000080"],
  [blueCurveNear, "#0000ff"], [tealCurve, "#008080"], [redCurveFar, "#ff0000"], [blueCurveFar, "#0000ff"],
  [greenCurve, "#008000"]
];
curves.forEach(([data, color]) => {
  area.append("path").datum(data).attr("d", line)
    .attr("fill", "none").attr("stroke", color).attr("stroke-width", 2);
});

const fromHourly = vals => hourlyTimes.map((t, i) => [t, vals[i]]).filter(d => d[1] != null);
const fromLogger = (times, vals) => times.map((t, i) => [t, vals[i]]).filter(d => d[1] != null);
const loggerSeries = (a, b) => fromLogger(loggerTimes, a).concat(fromLogger(loggerTimesB, b))
  .sort((p, q) => p[0] - q[0]);

const symSquare = d3.symbol(d3.symbolSquare, 118)();
const symCircle = d3.symbol(d3.symbolCircle, 95)();
const symTriangle = d3.symbol(d3.symbolTriangle, 62)();
const symCross = "M-6,0H6M0,-6V6";

function markers(data, path, fill, rotate = 0) {
  area.append("g").selectAll(null).data(data).join("path")
    .attr("d", path)
    .attr("transform", d => `translate(${x(d[0])},${y(d[1])})${rotate ? ` rotate(${rotate})` : ""}`)
    .attr("fill", fill).attr("stroke", "#000").attr("stroke-width", fill === "none" ? 1.3 : 1);
}

markers(oliveSquares.concat(loggerSeries(oliveLogger, oliveLoggerB)), symSquare, "#808000");
markers(blueSquares.concat(loggerSeries(blueSquareLogger, blueSquareLoggerB)), symSquare, "#0000ff");
markers(navyCircles.concat(loggerSeries(navyLogger, navyLoggerB)), symCircle, "#000080");
markers(fromHourly(maroonTriangleValues), symTriangle, "#800000");
markers(fromHourly(tealCircleValues), symCircle, "#008080");
markers(redCircles.concat(loggerSeries(redCircleLogger, redCircleLoggerB)), symCircle, "#ff0000");
markers(blueTriangles, symTriangle, "#0000ff", 180);
markers(greenTriangles, symTriangle, "#008000");
markers(fromHourly(crossValues), symCross, "none");

// frame
svg.append("rect").attr("x", plot.left).attr("y", plot.top)
  .attr("width", plot.right - plot.left).attr("height", plot.bottom - plot.top)
  .attr("fill", "none").attr("stroke", "#000").attr("stroke-width", 1.5);
</script>
</body>
</html>
